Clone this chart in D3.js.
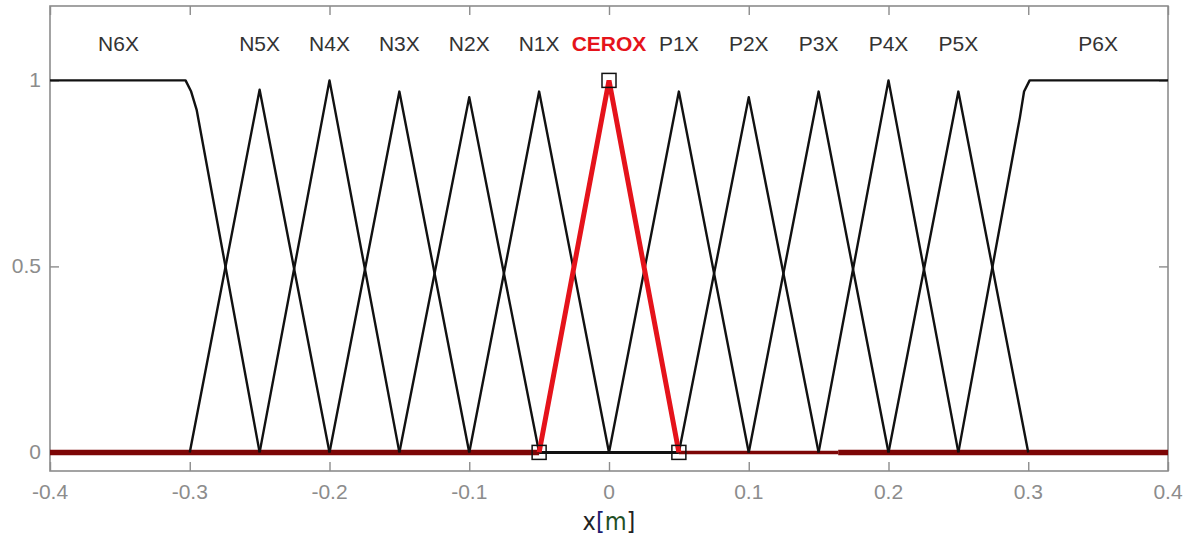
<!DOCTYPE html>
<html><head><meta charset="utf-8">
<script src="https://cdn.jsdelivr.net/npm/d3@7"></script>
<style>body{margin:0;background:#fff;}svg{display:block;}</style>
</head><body>
<svg id="chart" width="1192" height="542"></svg>
<script>
// ---- data ----
const triLabels = ["N5X","N4X","N3X","N2X","N1X","CEROX","P1X","P2X","P3X","P4X","P5X"];
const triCenters = [-0.25,-0.2,-0.15,-0.1,-0.05,0,0.05,0.1,0.15,0.2,0.25];
const triPeaks = [0.975,1.0,0.97,0.955,0.97,1.0,0.97,0.955,0.97,1.0,0.97];
const triHalfWidth = 0.05;
const n6xX = [-0.4,-0.303,-0.299,-0.295,-0.25];
const n6xY = [1,1,0.97,0.92,0];
const p6xX = [0.25,0.294,0.297,0.301,0.4];
const p6xY = [0,0.9,0.97,1,1];
const shoulderLabels = ["N6X","P6X"];
const shoulderLabelX = [-0.351,0.350];
const highlightLabel = "CEROX";
const baseSegStart = [-0.4,-0.05,0.05,0.164];
const baseSegEnd = [-0.05,0.05,0.164,0.4];
const baseSegKind = ["red","black","redThin","red"];
const xTicks = [-0.4,-0.3,-0.2,-0.1,0,0.1,0.2,0.3,0.4];
const yTicks = [0,0.5,1];
const xLabelParts = ["x","[","m","]"];

// ---- layout ----
const svg = d3.select("#chart");
const L = 50, R = 1168, T = 6, B = 471;
const x = d3.scaleLinear().domain([-0.4,0.4]).range([L,R]);
const y = d3.scaleLinear().domain([-0.05,1.2]).range([B,T]);
const line = d3.line().x(d=>x(d[0])).y(d=>y(d[1]));
const grey = "#8c8c8c";

// frame
svg.append("rect").attr("x",L).attr("y",T).attr("width",R-L).attr("height",B-T)
  .attr("fill","none").attr("stroke",grey).attr("stroke-width",1.6);

// ticks (inward) via axes
const xb = svg.append("g").attr("transform",`translate(0,${B})`)
  .call(d3.axisTop(x).tickValues(xTicks).tickSize(9).tickFormat(""));
const xt = svg.append("g").attr("transform",`translate(0,${T})`)
  .call(d3.axisBottom(x).tickValues(xTicks).tickSize(9).tickFormat(""));
const yl = svg.append("g").attr("transform",`translate(${L},0)`)
  .call(d3.axisRight(y).tickValues(yTicks).tickSize(9).tickFormat(""));
const yr = svg.append("g").attr("transform",`translate(${R},0)`)
  .call(d3.axisLeft(y).tickValues(yTicks).tickSize(9).tickFormat(""));
[xb,xt,yl,yr].forEach(g=>{g.select(".domain").remove();g.selectAll("line").attr("stroke",grey).attr("stroke-width",1.4);});

// tick labels
svg.append("g").selectAll("text").data(xTicks).join("text")
  .attr("x",d=>x(d)).attr("y",499).attr("text-anchor","middle")
  .attr("font-family","Liberation Sans, Arial, sans-serif").attr("font-size",21).attr("fill",grey)
  .text(d=>String(d));
svg.append("g").selectAll("text").data(yTicks).join("text")
  .attr("x",L-9).attr("y",d=>y(d)+7).attr("text-anchor","end")
  .attr("font-family","Liberation Sans, Arial, sans-serif").attr("font-size",21).attr("fill",grey)
  .text(d=>String(d));

// baseline segments
const segColor = {red:"#7d0606",redThin:"#7d0606",black:"#111"};
const segWidth = {red:5.5,redThin:3.5,black:3};
svg.append("g").selectAll("line").data(baseSegStart.map((s,i)=>({s,e:baseSegEnd[i],k:baseSegKind[i]}))).join("line")
  .attr("x1",d=>x(d.s)).attr("x2",d=>x(d.e)).attr("y1",y(0)).attr("y2",y(0))
  .attr("stroke",d=>segColor[d.k]).attr("stroke-width",d=>segWidth[d.k]);

// membership functions
const mfs = [];
mfs.push({name:"N6X",pts:n6xX.map((v,i)=>[v,n6xY[i]])});
triCenters.forEach((c,i)=>mfs.push({name:triLabels[i],pts:[[c-triHalfWidth,0],[c,triPeaks[i]],[c+triHalfWidth,0]]}));
mfs.push({name:"P6X",pts:p6xX.map((v,i)=>[v,p6xY[i]])});

const g = svg.append("g");
g.selectAll("path").data(mfs.filter(m=>m.name!==highlightLabel)).join("path")
  .attr("d",d=>line(d.pts)).attr("fill","none").attr("stroke","#111").attr("stroke-width",2.4)
  .attr("stroke-linejoin","round");
const hl = mfs.find(m=>m.name===highlightLabel);
g.append("path").attr("d",line(hl.pts)).attr("fill","none").attr("stroke","#e5131b")
  .attr("stroke-width",5).attr("stroke-linejoin","miter");
g.selectAll("rect").data(hl.pts).join("rect")
  .attr("x",d=>x(d[0])-7).attr("y",d=>y(d[1])-7).attr("width",14).attr("height",14)
  .attr("fill","none").attr("stroke","#111").attr("stroke-width",1.5);

// labels
const labelData = triLabels.map((l,i)=>({l,x:triCenters[i]}))
  .concat(shoulderLabels.map((l,i)=>({l,x:shoulderLabelX[i]})));
svg.append("g").selectAll("text").data(labelData).join("text")
  .attr("x",d=>x(d.x)).attr("y",y(1.1)+8).attr("text-anchor","middle")
  .attr("font-family","Liberation Sans, Arial, sans-serif").attr("font-size",21)
  .attr("font-weight",d=>d.l===highlightLabel?"bold":"normal")
  .attr("fill",d=>d.l===highlightLabel?"#e5131b":"#333")
  .text(d=>d.l);

// x axis title
const partColors = ["#222","#1c1c70","#1f4f24","#222"];
const xt2 = svg.append("text").attr("x",x(0)).attr("y",530).attr("text-anchor","middle")
  .attr("font-family","DejaVu Sans Condensed, DejaVu Sans, sans-serif").attr("font-size",25);
xLabelParts.forEach((p,i)=>xt2.append("tspan").attr("fill",partColors[i]).text(p));
</script>
</body></html>
